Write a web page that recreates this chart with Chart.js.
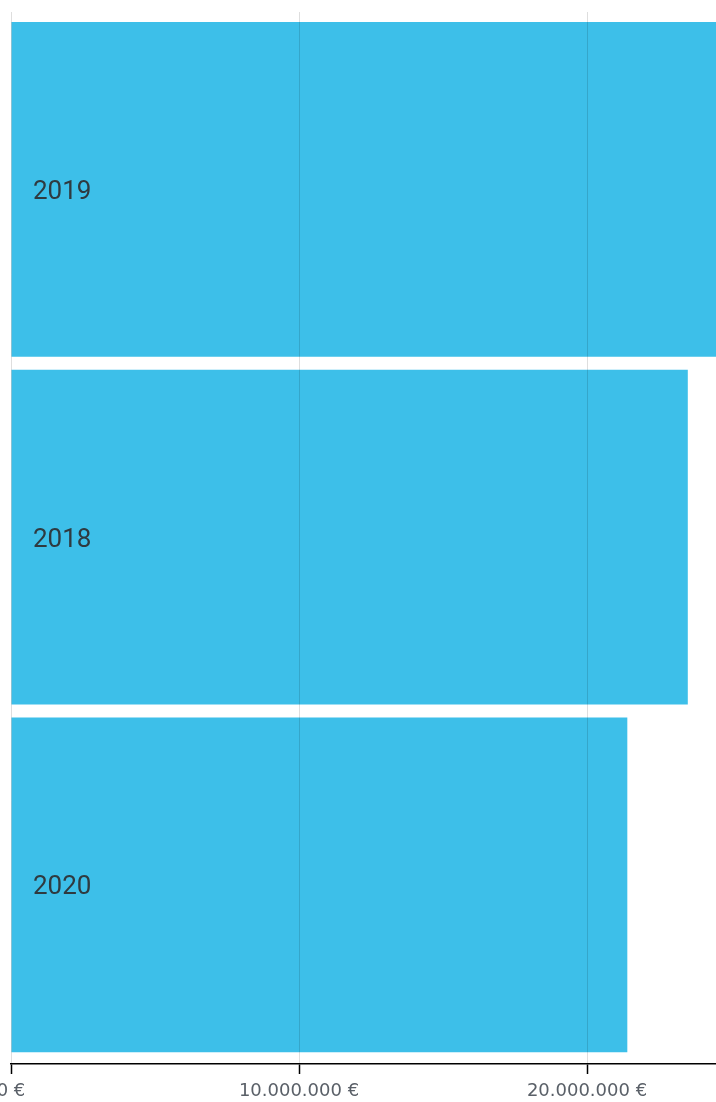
<!DOCTYPE html>
<html>
<head>
<meta charset="utf-8">
<script src="https://cdn.jsdelivr.net/npm/chart.js@4.4.1/dist/chart.umd.min.js"></script>
<style>
  html, body { margin: 0; padding: 0; background: #fff; overflow: hidden; width: 716px; height: 1102px; }
  #wrap { position: absolute; left: -49px; top: 0; width: 1004px; height: 1102px; }
</style>
</head>
<body>
<div id="wrap"><canvas id="c" width="1004" height="1102"></canvas></div>
<script>
// Data
const categories = ['2019', '2018', '2020'];
const values = [25500000, 23500000, 21400000];
const tickValues = [0, 10000000, 20000000, 30000000];

function euro(v) {
  return String(Math.round(v)).replace(/\B(?=(\d{3})+(?!\d))/g, '.') + ' €';
}

const ctx = document.getElementById('c').getContext('2d');
new Chart(ctx, {
  type: 'bar',
  data: {
    datasets: [{
      data: values.map((v, i) => ({ x: v, y: i })),
      backgroundColor: '#3DBFE9',
      borderWidth: 0,
      barPercentage: 0.963,
      categoryPercentage: 1
    }]
  },
  options: {
    indexAxis: 'y',
    responsive: false,
    animation: false,
    layout: { padding: { left: 0, right: 80, top: 12, bottom: 0 } },
    plugins: { legend: { display: false }, tooltip: { enabled: false } },
    scales: {
      x: {
        type: 'linear',
        position: 'bottom',
        min: 0,
        max: 30000000,
        afterBuildTicks: (s) => { s.ticks = tickValues.map(v => ({ value: v })); },
        afterFit: (s) => { s.height = 38; },
        grid: {
          z: 1,
          color: 'rgba(0,0,0,0.13)',
          lineWidth: 1,
          tickColor: '#000',
          tickLength: 10,
          tickWidth: 1.5
        },
        border: { display: true, color: '#000', width: 1.5, z: 1 },
        ticks: {
          z: 1,
          color: '#5a6068',
          font: { family: 'DejaVu Sans', size: 18 },
          padding: 7,
          maxRotation: 0,
          autoSkip: false,
          callback: (v) => euro(v)
        }
      },
      y: {
        type: 'linear',
        position: 'left',
        reverse: true,
        offset: false,
        min: -0.51,
        max: 2.515,
        afterBuildTicks: (s) => { s.ticks = categories.map((c, i) => ({ value: i })); },
        afterFit: (s) => { s.width = 60; s.paddingTop = 0; s.paddingBottom = 0; },
        grid: { display: false, offset: false },
        border: { display: false },
        ticks: {
          z: 2,
          mirror: true,
          padding: 22,
          labelOffset: 3,
          color: '#2f3a40',
          font: { family: 'Roboto', size: 26 },
          autoSkip: false,
          callback: (v) => categories[v] !== undefined ? categories[v] : ''
        }
      }
    }
  }
});
</script>
</body>
</html>
